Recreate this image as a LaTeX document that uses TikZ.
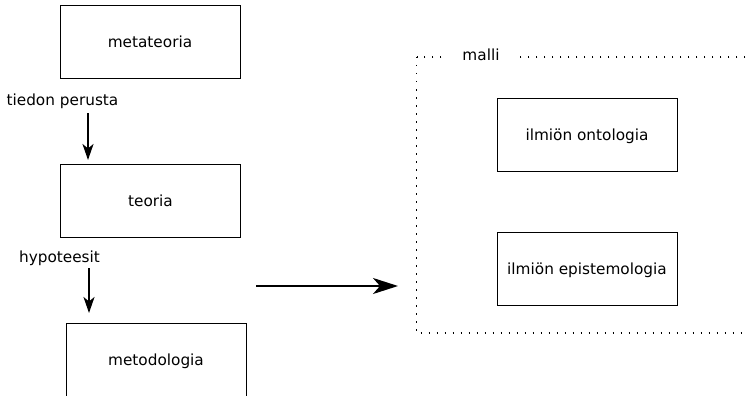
\documentclass[tikz,border=0pt]{standalone}
\usepackage{fontspec}
\setmainfont{DejaVu Sans}
\usetikzlibrary{arrows.meta}
\begin{document}
\begin{tikzpicture}[x=1pt,y=-1pt,
  every node/.style={font=\fontsize{15.3}{18}\selectfont},
  box/.style={draw, line width=1pt, minimum width=180pt, minimum height=73pt,
              inner sep=0pt, text height=11.4pt, text depth=0pt},
  lbl/.style={inner sep=0pt, anchor=base},
  flow/.style={line width=2pt, -{Stealth[length=16pt,width=11pt,inset=4.5pt]}},
  bigflow/.style={line width=2.2pt, -{Stealth[length=25pt,width=16pt,inset=7pt]}},
  dotline/.style={line width=1.5pt, dash pattern=on 1.5pt off 6.5pt}
]
\useasboundingbox (0,0) rectangle (747,396);
% left column
\node[box] (meta) at (150,42) {metateoria};
\node[box] (teo) at (150.5,201) {teoria};
\node[box] (met) at (156,360) {metodologia};
\node[lbl] (tp) at (62.5,105) {tiedon perusta};
\node[lbl] (hyp) at (59.5,262.7) {hypoteesit};
\coordinate (a1s) at (88,113);
\coordinate (a1e) at (88,160);
\coordinate (a2s) at (89,268);
\coordinate (a2e) at (89,313);
\draw[flow] (a1s) -- (a1e);
\draw[flow] (a2s) -- (a2e);
% model frame
\coordinate (fnw) at (416.7,57);
\coordinate (fse) at (765,333);
\draw[dotline] (fnw) rectangle (fse);
\node[lbl, fill=white, inner xsep=16pt] (malli) at (481,60) {malli};
\node[box] (onto) at (587,135) {ilmiön ontologia};
\node[box] (epis) at (587,269) {ilmiön epistemologia};
% big arrow
\coordinate (bs) at (256,286);
\coordinate (be) at (398,286);
\draw[bigflow] (bs) -- (be);
\end{tikzpicture}
\end{document}
